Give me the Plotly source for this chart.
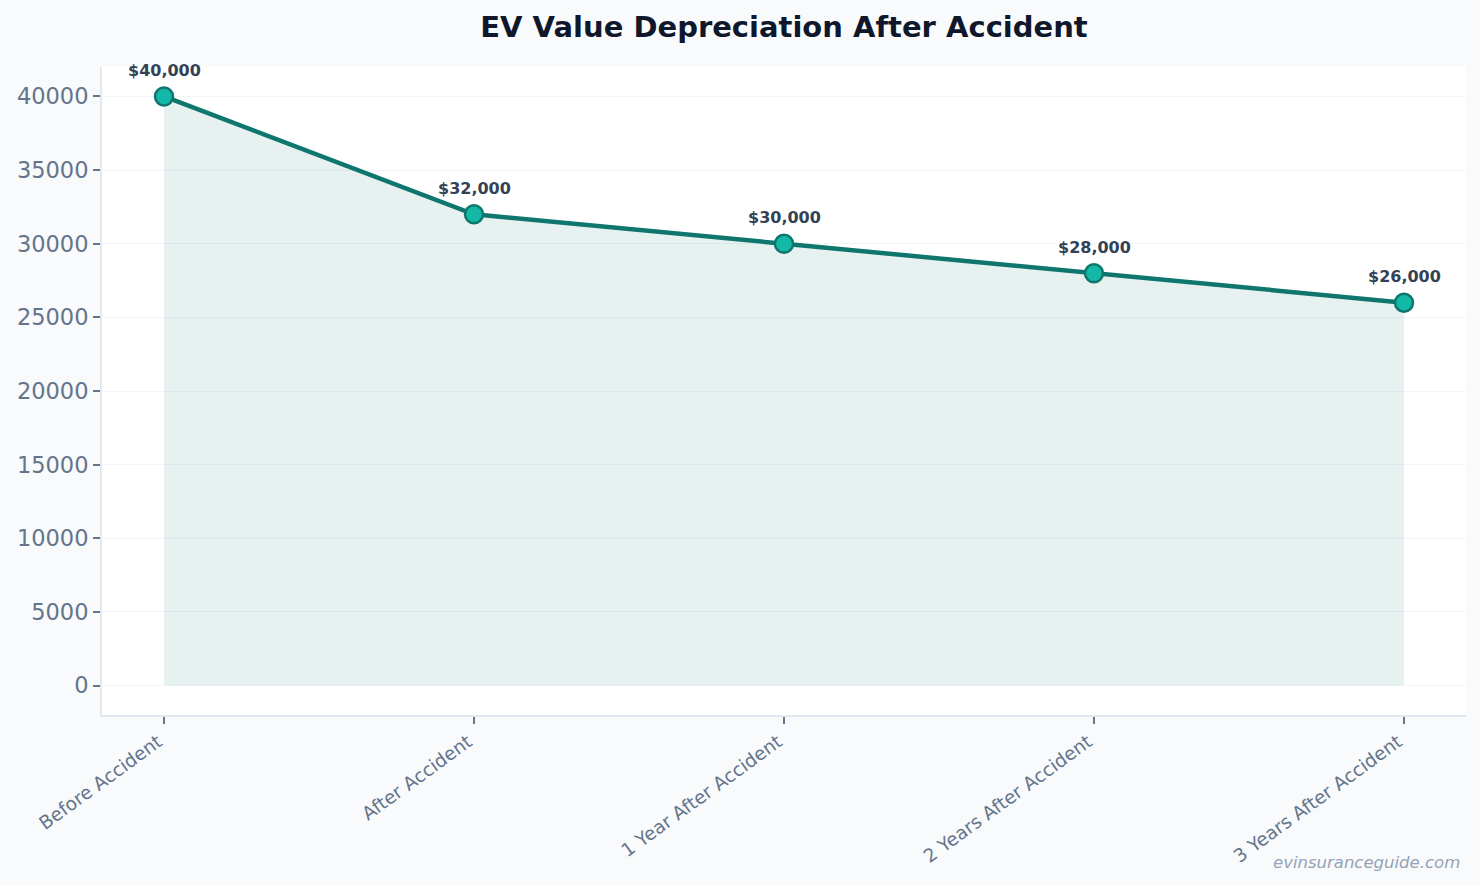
import plotly.graph_objects as go

categories = ["Before Accident", "After Accident", "1 Year After Accident",
              "2 Years After Accident", "3 Years After Accident"]
values = [40000, 32000, 30000, 28000, 26000]
labels = ["$40,000", "$32,000", "$30,000", "$28,000", "$26,000"]
y_ticks = [0, 5000, 10000, 15000, 20000, 25000, 30000, 35000, 40000]
y_tick_text = ["0", "5000", "10000", "15000", "20000", "25000", "30000", "35000", "40000"]

x_idx = list(range(len(categories)))

fig = go.Figure()
fig.add_trace(go.Scatter(
    x=x_idx, y=values, mode="lines", fill="tozeroy",
    fillcolor="rgba(15,118,110,0.10)",
    line=dict(color="rgba(15,118,110,0.12)", width=2),
    hoverinfo="skip", showlegend=False,
))
fig.add_trace(go.Scatter(
    x=x_idx, y=values, mode="lines+markers",
    line=dict(color="#0f766e", width=4.5),
    marker=dict(size=18, color="#14b8a6", line=dict(color="#0f766e", width=2.5)),
    showlegend=False,
))

for xi, v, t in zip(x_idx, values, labels):
    fig.add_annotation(x=xi, y=v, text=t, showarrow=False, yshift=26,
                       font=dict(family="DejaVu Sans", size=16, color="#334155", weight="bold"))

fig.add_annotation(text="evinsuranceguide.com", xref="paper", yref="paper",
                   x=1.0, y=0, xanchor="right", yanchor="bottom",
                   yshift=-159, xshift=-4, showarrow=False,
                   font=dict(family="DejaVu Sans", size=16.5, color="#94a3b8", style="italic"))

fig.update_layout(
    width=1480, height=886,
    paper_bgcolor="#f8fafc", plot_bgcolor="#ffffff",
    margin=dict(l=102, r=14, t=67, b=171),
    title=dict(text="<b>EV Value Depreciation After Accident</b>", xref="paper", x=0.5,
               xanchor="center", y=0.97, yanchor="middle",
               font=dict(family="DejaVu Sans", size=29, color="#0f172a")),
    xaxis=dict(
        range=[-0.2, 4.2], tickmode="array", tickvals=x_idx, ticktext=categories,
        tickangle=-36, ticks="outside", ticklen=7, tickcolor="#64748b", tickwidth=2,
        ticklabelshift=-6,
        showgrid=False, showline=True, linecolor="#e2e8f0", linewidth=2,
        tickfont=dict(family="DejaVu Sans", size=18.5, color="#64748b"),
        zeroline=False,
    ),
    yaxis=dict(
        range=[-2000, 42000], tickmode="array",
        tickvals=y_ticks, ticktext=y_tick_text,
        ticks="outside", ticklen=7, tickcolor="#64748b", tickwidth=2,
        showgrid=True, gridcolor="#f1f5f9", gridwidth=1,
        showline=True, linecolor="#e2e8f0", linewidth=2,
        tickfont=dict(family="DejaVu Sans", size=22.5, color="#64748b"),
        zeroline=False,
    ),
)

fig.write_html("out.html")
